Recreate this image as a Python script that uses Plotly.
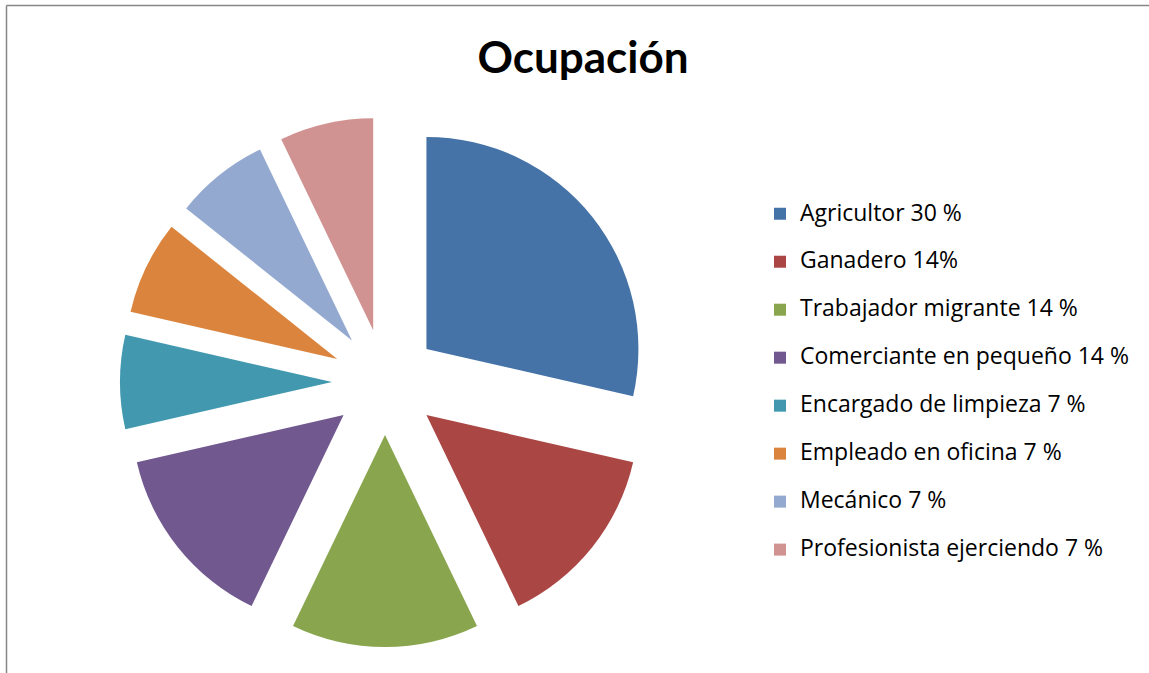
import plotly.graph_objects as go

W, H = 1149, 673

categories = [
    "Agricultor 30 %",
    "Ganadero 14%",
    "Trabajador migrante 14 %",
    "Comerciante en pequeño 14 %",
    "Encargado de limpieza 7 %",
    "Empleado en oficina 7 %",
    "Mecánico 7 %",
    "Profesionista ejerciendo 7 %",
]
counts = [4, 2, 2, 2, 1, 1, 1, 1]
colors = ["#4572A7", "#AA4643", "#89A54E", "#71588F",
          "#4198AF", "#DB843D", "#93A9CF", "#D19392"]

# legend text rendered larger than base legend font to get Excel-like spacing
legend_labels = ['<span style="font-size:23px">%s</span><br>' % c for c in categories]

fig = go.Figure(go.Pie(
    labels=legend_labels,
    values=counts,
    sort=False,
    direction="clockwise",
    rotation=0,
    pull=[0.25] * len(counts),
    marker=dict(colors=colors, line=dict(width=0)),
    textinfo="none",
    hovertext=categories,
    hoverinfo="text+value",
    domain=dict(x=[120 / W, 650 / W], y=[1 - 647 / H, 1 - 117 / H]),
))

fig.update_layout(
    width=W, height=H,
    margin=dict(l=0, r=0, t=0, b=0),
    paper_bgcolor="white",
    plot_bgcolor="white",
    title=dict(text="<b>Ocupación</b>", x=583 / W, xref="container", xanchor="center",
               y=1 - 58 / H, yref="container", yanchor="middle",
               font=dict(family="Lato", size=44, color="black")),
    legend=dict(x=760 / W, xanchor="left", y=1 - 196 / H, yanchor="top",
                font=dict(family="Open Sans", size=17.3, color="black"),
                valign="top", itemwidth=30, bgcolor="rgba(0,0,0,0)"),
    shapes=[
        dict(type="line", xref="paper", yref="paper", x0=6.5 / W, x1=1, y0=1 - 5.5 / H, y1=1 - 5.5 / H,
             line=dict(color="#878787", width=1.5)),
        dict(type="line", xref="paper", yref="paper", x0=6.5 / W, x1=6.5 / W, y0=0, y1=1 - 5.5 / H,
             line=dict(color="#878787", width=1.5)),
    ],
)

fig.write_html("out.html", config={"displayModeBar": False},
               post_script="document.body.style.margin='0';")
